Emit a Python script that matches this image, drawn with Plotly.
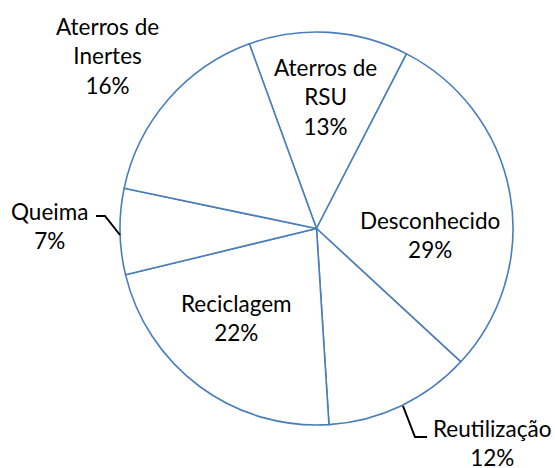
import plotly.graph_objects as go

# Destination of construction waste, share by category
categories = ["Aterros de<br>RSU", "Desconhecido", "Reutilização", "Reciclagem", "Queima", "Aterros de<br>Inertes"]
shares = [13, 29, 12, 22, 7, 16]

W, H = 555, 468
CX, CY, R = 316.5, 228.5, 196.5  # pie centre and radius in pixels

EDGE = "#4A7EBB"
FONT = dict(family="Lato, 'Open Sans', sans-serif", size=22.5, color="#000000")

# label block centres (pixels) for each category
label_pos = [(325, 97), (430, 235), (492, 443), (236, 318), (49, 226), (107, 56)]

# leader lines (pixels) for the labels placed outside the pie
leaders = {
    4: [(96, 216), (105, 216), (120, 235)],
    2: [(403, 406), (415, 437), (427, 437)],
}


def px(x):
    return x / W


def py(y):
    return 1 - y / H


fig = go.Figure(
    go.Pie(
        labels=categories,
        values=shares,
        sort=False,
        direction="clockwise",
        rotation=-20,
        textinfo="none",
        hoverinfo="label+percent",
        marker=dict(colors=["#FFFFFF"] * len(shares), line=dict(color=EDGE, width=1.6)),
        domain=dict(x=[px(CX - R), px(CX + R)], y=[py(CY + R), py(CY - R)]),
        showlegend=False,
    )
)

total = sum(shares)
for i, (name, v) in enumerate(zip(categories, shares)):
    x, y = label_pos[i]
    fig.add_annotation(
        x=px(x), y=py(y), xref="paper", yref="paper",
        text=f"{name}<br>{round(v / total * 100)}%",
        showarrow=False, xanchor="center", yanchor="middle",
        align="center", font=FONT,
    )

for pts in leaders.values():
    path = "M " + " L ".join(f"{px(a)},{py(b)}" for a, b in pts)
    fig.add_shape(type="path", path=path, xref="paper", yref="paper",
                  line=dict(color="#000000", width=2))

fig.update_layout(
    width=W, height=H,
    margin=dict(l=0, r=0, t=0, b=0),
    paper_bgcolor="#FFFFFF",
    plot_bgcolor="#FFFFFF",
)

fig.write_html("out.html")
